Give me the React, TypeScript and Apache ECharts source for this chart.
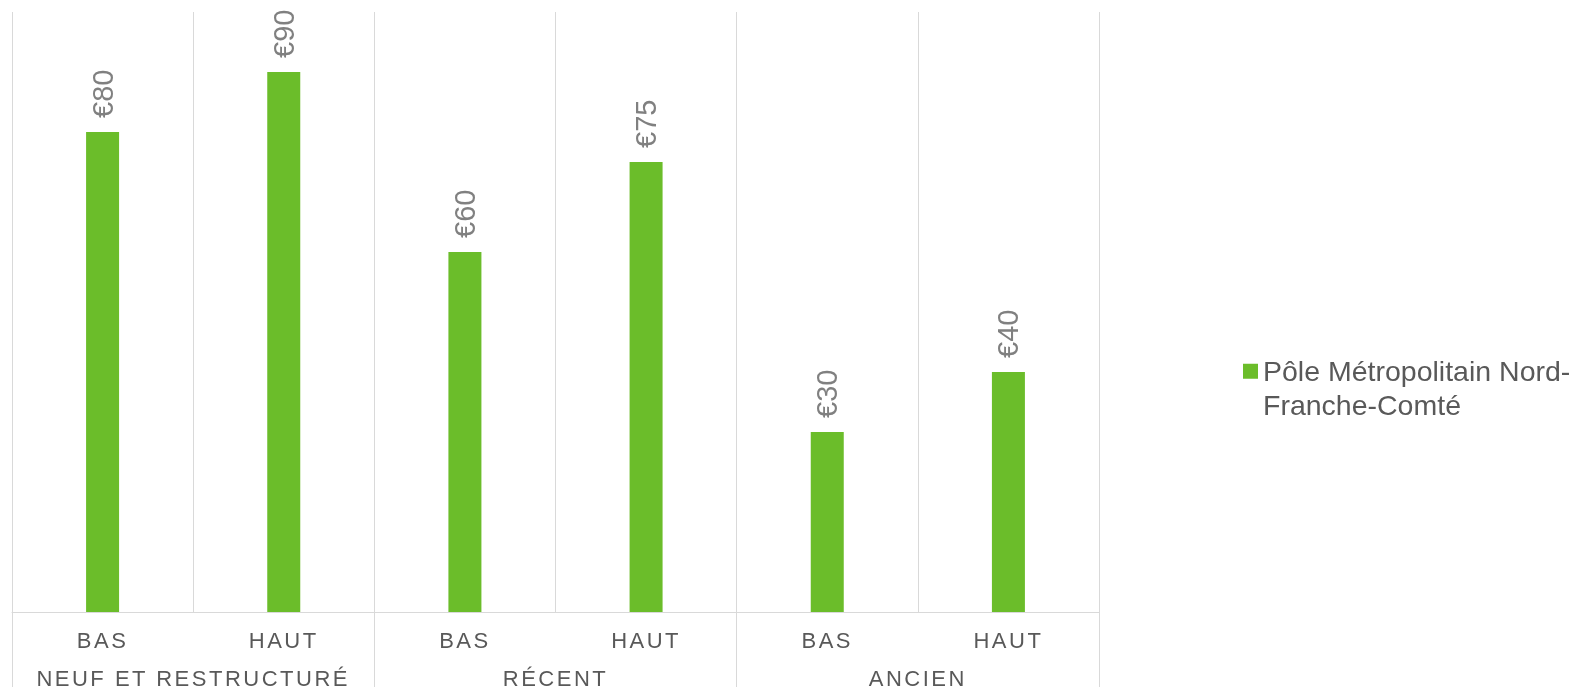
import React, { useEffect, useRef } from "react";
import * as echarts from "echarts";

const subCategories = ["BAS", "HAUT", "BAS", "HAUT", "BAS", "HAUT"];
const groupCategories = ["NEUF ET RESTRUCTURÉ", "RÉCENT", "ANCIEN"];
const seriesName = "Pôle Métropolitain Nord-Franche-Comté";
const values = [80, 90, 60, 75, 30, 40];

const GREEN = "#6BBD2A";
const GRID = "#D9D9D9";
const AXIS_TEXT = "#595959";
const LABEL_TEXT = "#808080";
const FONT = "'Liberation Sans', Arial, sans-serif";

export default function App() {
  const ref = useRef<HTMLDivElement>(null);

  useEffect(() => {
    if (!ref.current) return;
    const chart = echarts.init(ref.current, undefined, { renderer: "svg" });
    chart.setOption({
      animation: false,
      textStyle: { fontFamily: FONT },
      grid: { left: 12, top: 12, right: 486, bottom: 75, containLabel: false },
      legend: {
        show: true,
        left: 1243,
        top: 321,
        padding: 0,
        icon: "rect",
        itemWidth: 15,
        itemHeight: 15,
        data: [seriesName],
        formatter: () => "\nPôle Métropolitain Nord-\nFranche-Comté",
        textStyle: {
          color: AXIS_TEXT,
          fontSize: 28.5,
          fontFamily: FONT,
          lineHeight: 33.5,
        },
      },
      xAxis: [
        {
          type: "category",
          position: "bottom",
          data: subCategories,
          boundaryGap: true,
          axisLine: { show: true, lineStyle: { color: GRID, width: 1 } },
          axisTick: { show: false },
          splitLine: { show: true, interval: 0, lineStyle: { color: GRID, width: 1 } },
          axisLabel: {
            interval: 0,
            margin: 17,
            color: AXIS_TEXT,
            fontSize: 22,
            fontFamily: FONT,
          },
        },
        {
          type: "category",
          position: "bottom",
          offset: 0,
          data: groupCategories,
          boundaryGap: true,
          axisLine: { show: false },
          axisTick: { show: true, length: 75, interval: 0, lineStyle: { color: GRID, width: 1 } },
          splitLine: { show: false },
          axisLabel: {
            interval: 0,
            margin: 55,
            color: AXIS_TEXT,
            fontSize: 22,
            fontFamily: FONT,
          },
        },
      ],
      yAxis: {
        type: "value",
        min: 0,
        max: 100,
        show: false,
        splitLine: { show: false },
      },
      series: [
        {
          name: seriesName,
          type: "bar",
          xAxisIndex: 0,
          data: values,
          barWidth: 33,
          itemStyle: { color: GREEN },
          label: {
            show: true,
            position: "top",
            rotate: 90,
            align: "left",
            verticalAlign: "middle",
            distance: 14,
            formatter: "€{c}",
            color: LABEL_TEXT,
            fontSize: 29,
            fontFamily: FONT,
          },
        },
      ],
    });
    return () => chart.dispose();
  }, []);

  return (
    <>
      <style>{`.chartbox text[style*="22px"] { letter-spacing: 2.5px; }`}</style>
      <div
        ref={ref}
        className="chartbox"
        style={{ position: "fixed", left: 0, top: 0, width: 1585, height: 689 }}
      />
    </>
  );
}
